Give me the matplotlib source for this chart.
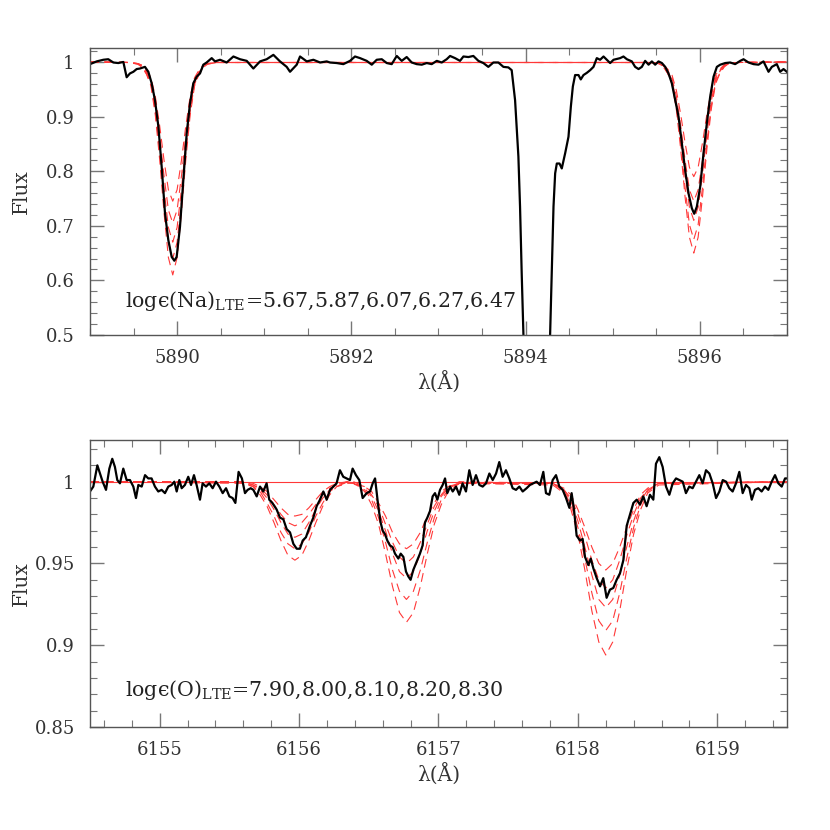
import matplotlib
matplotlib.use("Agg")
import matplotlib.pyplot as plt
from matplotlib.ticker import MultipleLocator, FuncFormatter
import numpy as np

plt.rcParams['font.family'] = ['DejaVu Serif']
plt.rcParams['mathtext.fontset'] = 'custom'
plt.rcParams['mathtext.rm'] = 'DejaVu Serif'

# observed spectrum, Na D region
na_obs_wave = [5889.000, 5889.077, 5889.153, 5889.210, 5889.268, 5889.325, 5889.383, 5889.421, 5889.459, 5889.498,
               5889.536, 5889.574, 5889.631, 5889.670, 5889.708, 5889.746, 5889.785, 5889.823, 5889.861, 5889.899,
               5889.938, 5889.968, 5889.995, 5890.033, 5890.072, 5890.110, 5890.148, 5890.186, 5890.225, 5890.263,
               5890.301, 5890.339, 5890.397, 5890.435, 5890.493, 5890.569, 5890.646, 5890.722, 5890.799, 5890.875,
               5890.952, 5891.028, 5891.105, 5891.181, 5891.258, 5891.296, 5891.373, 5891.411, 5891.488, 5891.564,
               5891.641, 5891.717, 5891.755, 5891.832, 5891.908, 5891.985, 5892.042, 5892.100, 5892.176, 5892.234,
               5892.291, 5892.349, 5892.406, 5892.463, 5892.521, 5892.578, 5892.635, 5892.693, 5892.750, 5892.808,
               5892.865, 5892.922, 5892.980, 5893.037, 5893.094, 5893.133, 5893.190, 5893.247, 5893.286, 5893.343,
               5893.400, 5893.458, 5893.515, 5893.572, 5893.630, 5893.687, 5893.745, 5893.802, 5893.840, 5893.879,
               5893.917, 5893.936, 5893.955, 5893.975, 5894.050, 5894.200, 5894.281, 5894.300, 5894.320, 5894.339,
               5894.358, 5894.389, 5894.415, 5894.454, 5894.492, 5894.519, 5894.542, 5894.568, 5894.607, 5894.633,
               5894.664, 5894.702, 5894.741, 5894.779, 5894.817, 5894.855, 5894.894, 5894.932, 5894.970, 5895.009,
               5895.085, 5895.123, 5895.162, 5895.219, 5895.257, 5895.296, 5895.334, 5895.372, 5895.411, 5895.449,
               5895.487, 5895.525, 5895.564, 5895.602, 5895.640, 5895.678, 5895.717, 5895.755, 5895.793, 5895.831,
               5895.870, 5895.908, 5895.935, 5895.965, 5896.004, 5896.042, 5896.080, 5896.119, 5896.157, 5896.195,
               5896.234, 5896.291, 5896.348, 5896.405, 5896.463, 5896.501, 5896.558, 5896.616, 5896.673, 5896.730,
               5896.788, 5896.826, 5896.883, 5896.921, 5896.960, 5896.998]
na_obs_flux = [0.996, 1.001, 1.004, 1.005, 0.999, 0.998, 1.000, 0.972, 0.979, 0.982,
               0.987, 0.988, 0.991, 0.982, 0.961, 0.930, 0.882, 0.808, 0.723, 0.674,
               0.643, 0.636, 0.643, 0.698, 0.784, 0.869, 0.924, 0.961, 0.973, 0.979,
               0.995, 0.999, 1.007, 1.001, 1.004, 0.999, 1.010, 1.005, 1.002, 0.988,
               1.001, 1.005, 1.013, 1.001, 0.991, 0.982, 0.995, 1.010, 1.001, 1.004,
               0.999, 1.001, 0.999, 0.998, 0.996, 1.002, 1.010, 1.007, 1.002, 0.995,
               1.004, 1.005, 0.998, 0.996, 1.011, 1.002, 1.009, 0.999, 0.996, 0.995,
               0.998, 0.996, 1.002, 0.999, 1.005, 1.011, 1.007, 1.002, 1.010, 1.009,
               1.011, 1.002, 0.998, 0.991, 0.999, 0.999, 0.991, 0.990, 0.985, 0.930,
               0.827, 0.735, 0.613, 0.500, 0.300, 0.300, 0.500, 0.613, 0.735, 0.796,
               0.814, 0.814, 0.805, 0.833, 0.863, 0.918, 0.955, 0.976, 0.976, 0.968,
               0.976, 0.980, 0.985, 0.991, 1.007, 1.004, 1.010, 1.004, 0.998, 1.004,
               1.007, 1.010, 1.005, 1.001, 0.991, 0.987, 0.991, 1.002, 0.995, 1.001,
               0.995, 1.001, 0.998, 0.991, 0.979, 0.961, 0.930, 0.900, 0.851, 0.802,
               0.759, 0.732, 0.722, 0.735, 0.772, 0.833, 0.888, 0.937, 0.973, 0.991,
               0.995, 0.998, 0.999, 0.996, 1.002, 1.005, 0.999, 0.996, 0.995, 1.001,
               0.982, 0.991, 0.996, 0.982, 0.987, 0.982]

# synthetic spectra, Na D2 / D1, five abundances
na_abund = [5.67, 5.87, 6.07, 6.27, 6.47]
na_centers = [5889.95, 5895.93]
na_offsets = [-0.5, -0.4, -0.35, -0.3, -0.25, -0.2, -0.15, -0.1, -0.05, 0.0,
              0.05, 0.1, 0.15, 0.2, 0.25, 0.3, 0.35, 0.4, 0.5]
na_d2_synth = [
    [0.999, 0.997, 0.994, 0.985, 0.971, 0.937, 0.883, 0.820, 0.766, 0.745, 0.766, 0.820, 0.883, 0.937, 0.971, 0.985, 0.994, 0.997, 0.999],
    [0.999, 0.997, 0.993, 0.982, 0.966, 0.927, 0.865, 0.791, 0.729, 0.705, 0.729, 0.791, 0.865, 0.927, 0.966, 0.982, 0.993, 0.997, 0.999],
    [0.999, 0.997, 0.992, 0.980, 0.962, 0.918, 0.849, 0.767, 0.697, 0.670, 0.697, 0.767, 0.849, 0.918, 0.962, 0.980, 0.992, 0.997, 0.999],
    [0.999, 0.996, 0.991, 0.978, 0.959, 0.910, 0.835, 0.745, 0.670, 0.640, 0.670, 0.745, 0.835, 0.910, 0.959, 0.978, 0.991, 0.996, 0.999],
    [0.999, 0.996, 0.990, 0.977, 0.956, 0.903, 0.821, 0.724, 0.642, 0.610, 0.642, 0.724, 0.821, 0.903, 0.956, 0.977, 0.990, 0.996, 0.999],
]
na_d1_synth = [
    [0.999, 0.998, 0.995, 0.987, 0.976, 0.948, 0.904, 0.852, 0.807, 0.790, 0.807, 0.852, 0.904, 0.948, 0.976, 0.987, 0.995, 0.998, 0.999],
    [0.999, 0.997, 0.994, 0.985, 0.971, 0.937, 0.883, 0.820, 0.766, 0.745, 0.766, 0.820, 0.883, 0.937, 0.971, 0.985, 0.994, 0.997, 0.999],
    [0.999, 0.997, 0.993, 0.983, 0.967, 0.928, 0.867, 0.795, 0.734, 0.710, 0.734, 0.795, 0.867, 0.928, 0.967, 0.983, 0.993, 0.997, 0.999],
    [0.999, 0.997, 0.992, 0.980, 0.963, 0.919, 0.851, 0.770, 0.702, 0.675, 0.702, 0.770, 0.851, 0.919, 0.963, 0.980, 0.992, 0.997, 0.999],
    [0.999, 0.997, 0.991, 0.979, 0.960, 0.913, 0.840, 0.753, 0.679, 0.650, 0.679, 0.753, 0.840, 0.913, 0.960, 0.979, 0.991, 0.997, 0.999],
]

# observed spectrum, O I 6156-6158 triplet
o_obs_wave = [6154.500, 6154.524, 6154.553, 6154.572, 6154.591, 6154.615, 6154.639, 6154.660, 6154.679, 6154.696,
              6154.715, 6154.739, 6154.763, 6154.787, 6154.811, 6154.830, 6154.847, 6154.871, 6154.895, 6154.918,
              6154.942, 6154.966, 6154.990, 6155.014, 6155.038, 6155.062, 6155.086, 6155.105, 6155.122, 6155.141,
              6155.158, 6155.181, 6155.205, 6155.225, 6155.246, 6155.265, 6155.289, 6155.308, 6155.332, 6155.356,
              6155.380, 6155.404, 6155.428, 6155.452, 6155.476, 6155.500, 6155.523, 6155.543, 6155.566, 6155.590,
              6155.612, 6155.631, 6155.653, 6155.672, 6155.696, 6155.720, 6155.743, 6155.767, 6155.786, 6155.808,
              6155.839, 6155.863, 6155.887, 6155.911, 6155.935, 6155.959, 6155.983, 6156.006, 6156.026, 6156.049,
              6156.078, 6156.102, 6156.126, 6156.150, 6156.174, 6156.198, 6156.222, 6156.246, 6156.269, 6156.293,
              6156.317, 6156.341, 6156.365, 6156.384, 6156.408, 6156.432, 6156.456, 6156.485, 6156.509, 6156.528,
              6156.545, 6156.568, 6156.585, 6156.600, 6156.616, 6156.633, 6156.652, 6156.671, 6156.688, 6156.712,
              6156.729, 6156.748, 6156.767, 6156.784, 6156.800, 6156.819, 6156.843, 6156.867, 6156.886, 6156.903,
              6156.920, 6156.939, 6156.958, 6156.975, 6156.992, 6157.011, 6157.030, 6157.047, 6157.063, 6157.083,
              6157.102, 6157.126, 6157.149, 6157.173, 6157.197, 6157.221, 6157.245, 6157.269, 6157.293, 6157.317,
              6157.341, 6157.365, 6157.389, 6157.413, 6157.436, 6157.460, 6157.484, 6157.508, 6157.532, 6157.556,
              6157.580, 6157.604, 6157.632, 6157.656, 6157.680, 6157.704, 6157.728, 6157.752, 6157.771, 6157.795,
              6157.819, 6157.843, 6157.867, 6157.891, 6157.915, 6157.939, 6157.955, 6157.972, 6157.991, 6158.015,
              6158.034, 6158.051, 6158.075, 6158.092, 6158.111, 6158.135, 6158.159, 6158.182, 6158.206, 6158.230,
              6158.254, 6158.278, 6158.302, 6158.326, 6158.350, 6158.374, 6158.398, 6158.422, 6158.445, 6158.469,
              6158.493, 6158.517, 6158.541, 6158.560, 6158.584, 6158.608, 6158.632, 6158.656, 6158.680, 6158.704,
              6158.728, 6158.752, 6158.775, 6158.799, 6158.823, 6158.847, 6158.871, 6158.895, 6158.919, 6158.943,
              6158.967, 6158.991, 6159.015, 6159.039, 6159.063, 6159.086, 6159.110, 6159.134, 6159.158, 6159.182,
              6159.206, 6159.230, 6159.247, 6159.270, 6159.294, 6159.318, 6159.342, 6159.366, 6159.390, 6159.414,
              6159.438, 6159.462, 6159.486, 6159.498]
o_obs_flux = [0.994, 0.997, 1.010, 1.005, 1.000, 0.995, 1.008, 1.014, 1.009, 1.001,
              0.999, 1.008, 1.001, 1.001, 0.997, 0.990, 0.998, 0.997, 1.004, 1.002,
              1.002, 0.997, 0.994, 0.995, 0.993, 0.997, 0.998, 1.000, 0.994, 1.001,
              0.996, 0.998, 1.003, 0.998, 1.004, 0.998, 0.989, 0.999, 0.997, 0.999,
              0.996, 1.000, 0.997, 0.993, 0.996, 0.991, 0.990, 0.987, 1.006, 1.002,
              0.993, 0.995, 0.996, 0.995, 0.991, 0.997, 0.994, 0.999, 0.989, 0.987,
              0.983, 0.978, 0.977, 0.971, 0.969, 0.962, 0.959, 0.959, 0.964, 0.966,
              0.973, 0.978, 0.985, 0.989, 0.994, 0.989, 0.995, 0.997, 0.999, 1.007,
              1.003, 1.002, 1.001, 1.008, 1.004, 1.001, 0.990, 0.993, 0.994, 0.999,
              1.002, 0.985, 0.975, 0.970, 0.968, 0.964, 0.961, 0.960, 0.956, 0.953,
              0.956, 0.954, 0.945, 0.942, 0.940, 0.946, 0.951, 0.956, 0.961, 0.975,
              0.978, 0.982, 0.991, 0.993, 0.989, 0.995, 0.998, 1.002, 0.993, 0.997,
              0.994, 0.997, 0.992, 0.999, 0.994, 1.007, 0.998, 1.004, 0.998, 0.997,
              0.999, 1.005, 1.001, 1.005, 1.012, 1.003, 1.007, 1.002, 0.996, 0.995,
              0.997, 0.994, 0.996, 0.998, 0.999, 1.000, 0.998, 1.006, 0.993, 0.992,
              1.001, 1.004, 0.997, 0.995, 0.990, 0.984, 0.993, 0.983, 0.967, 0.964,
              0.965, 0.954, 0.949, 0.953, 0.947, 0.941, 0.936, 0.941, 0.929, 0.934,
              0.935, 0.940, 0.944, 0.952, 0.973, 0.980, 0.987, 0.989, 0.986, 0.991,
              0.985, 0.992, 0.989, 1.011, 1.015, 1.009, 0.997, 0.992, 0.999, 1.002,
              1.001, 1.000, 0.993, 0.997, 0.996, 1.000, 1.004, 0.999, 1.007, 1.005,
              0.999, 0.990, 0.994, 1.001, 1.000, 0.996, 0.994, 0.999, 1.006, 0.993,
              0.998, 0.996, 0.989, 0.995, 0.996, 0.994, 0.997, 0.995, 1.000, 1.004,
              0.999, 0.997, 1.002, 1.002]

# synthetic spectra, O I lines, five abundances
o_abund = [7.90, 8.00, 8.10, 8.20, 8.30]
o_centers = [6155.97, 6156.77, 6158.20]
o_offsets = [-0.38, -0.3, -0.25, -0.2, -0.15, -0.1, -0.05, 0.0,
             0.05, 0.1, 0.15, 0.2, 0.25, 0.3, 0.38]
o_line1_synth = [
    [1.000, 0.999, 0.997, 0.994, 0.989, 0.984, 0.980, 0.979, 0.980, 0.984, 0.989, 0.994, 0.997, 0.999, 1.000],
    [1.000, 0.998, 0.996, 0.992, 0.986, 0.980, 0.975, 0.973, 0.975, 0.980, 0.986, 0.992, 0.996, 0.998, 1.000],
    [1.000, 0.998, 0.995, 0.990, 0.983, 0.975, 0.968, 0.966, 0.968, 0.975, 0.983, 0.990, 0.995, 0.998, 1.000],
    [1.000, 0.997, 0.994, 0.987, 0.979, 0.969, 0.962, 0.959, 0.962, 0.969, 0.979, 0.987, 0.994, 0.997, 1.000],
    [0.999, 0.997, 0.992, 0.985, 0.975, 0.964, 0.955, 0.952, 0.955, 0.964, 0.975, 0.985, 0.992, 0.997, 0.999],
]
o_line2_synth = [
    [1.000, 0.997, 0.994, 0.987, 0.979, 0.969, 0.962, 0.959, 0.962, 0.969, 0.979, 0.987, 0.994, 0.997, 1.000],
    [0.999, 0.997, 0.992, 0.985, 0.974, 0.963, 0.954, 0.950, 0.954, 0.963, 0.974, 0.985, 0.992, 0.997, 0.999],
    [0.999, 0.996, 0.991, 0.982, 0.970, 0.956, 0.945, 0.941, 0.945, 0.956, 0.970, 0.982, 0.991, 0.996, 0.999],
    [0.999, 0.995, 0.989, 0.978, 0.963, 0.946, 0.933, 0.928, 0.933, 0.946, 0.963, 0.978, 0.989, 0.995, 0.999],
    [0.999, 0.994, 0.986, 0.974, 0.956, 0.936, 0.920, 0.914, 0.920, 0.936, 0.956, 0.974, 0.986, 0.994, 0.999],
]
o_line3_synth = [
    [0.999, 0.996, 0.992, 0.983, 0.972, 0.960, 0.950, 0.946, 0.950, 0.960, 0.972, 0.983, 0.992, 0.996, 0.999],
    [0.999, 0.995, 0.990, 0.980, 0.967, 0.952, 0.940, 0.935, 0.940, 0.952, 0.967, 0.980, 0.990, 0.995, 0.999],
    [0.999, 0.995, 0.988, 0.976, 0.960, 0.943, 0.928, 0.923, 0.928, 0.943, 0.960, 0.976, 0.988, 0.995, 0.999],
    [0.999, 0.994, 0.986, 0.972, 0.953, 0.932, 0.915, 0.909, 0.915, 0.932, 0.953, 0.972, 0.986, 0.994, 0.999],
    [0.998, 0.993, 0.983, 0.968, 0.946, 0.921, 0.902, 0.894, 0.902, 0.921, 0.946, 0.968, 0.983, 0.993, 0.998],
]

RED = "#ff3838"
DASH = (0, (8, 5))


def synth_curve(x0, x1, centers, offsets, profiles):
    # continuum point at each end, line profiles in between
    wave = [x0]
    flux = [1.0]
    for c, prof in zip(centers, profiles):
        wave += [c + o for o in offsets]
        flux += list(prof)
    wave.append(x1)
    flux.append(1.0)
    return wave, flux


def style_axes(ax, xmaj, xmin, ymaj, ymin):
    ax.xaxis.set_major_locator(MultipleLocator(xmaj))
    ax.xaxis.set_minor_locator(MultipleLocator(xmin))
    ax.yaxis.set_major_locator(MultipleLocator(ymaj))
    ax.yaxis.set_minor_locator(MultipleLocator(ymin))
    ax.yaxis.set_major_formatter(FuncFormatter(lambda v, p: "%g" % round(v, 3)))
    ax.tick_params(which="both", direction="in", top=True, right=True, color="#777777")
    ax.tick_params(which="major", length=10, width=1.0)
    ax.tick_params(which="minor", length=5, width=0.8)
    ax.tick_params(axis="x", which="major", labelsize=13, pad=10, labelcolor="#333333")
    ax.tick_params(axis="y", which="major", labelsize=13, pad=11, labelcolor="#333333")
    for s in ax.spines.values():
        s.set_color("#555555")
        s.set_linewidth(1.0)
    ax.set_ylabel("Flux", fontsize=14.5, color="#333333")
    ax.set_xlabel("λ(Å)", fontsize=14.5, color="#333333")
    ax.yaxis.set_label_coords(-0.085, 0.5)
    ax.xaxis.set_label_coords(0.5, -0.125)


def main():
    fig = plt.figure(figsize=(8.3, 8.3), dpi=100)
    ax1 = fig.add_axes([0.1084, 0.5964, 0.8398, 0.3458])
    ax2 = fig.add_axes([0.1084, 0.1241, 0.8398, 0.3458])

    # Na D panel
    for i in range(len(na_abund)):
        w, f = synth_curve(5889.0, 5897.0, na_centers, na_offsets, [na_d2_synth[i], na_d1_synth[i]])
        ax1.plot(w, f, color=RED, lw=0.8, linestyle=DASH)
    ax1.plot(na_obs_wave, na_obs_flux, color="black", lw=1.6)
    ax1.set_xlim(5889, 5897)
    ax1.set_ylim(0.5, 1.0256)
    style_axes(ax1, 2, 0.5, 0.1, 0.02)
    ax1.text(5889.40, 0.5513, "logϵ(Na)$_{\\rm LTE}$=" + ",".join("%.2f" % a for a in na_abund),
             fontsize=14.8, va="baseline", ha="left", color="#222222")

    # O I panel
    ax2.axhline(1.0, color=RED, lw=0.8)
    for i in range(len(o_abund)):
        w, f = synth_curve(6154.5, 6159.5, o_centers, o_offsets,
                           [o_line1_synth[i], o_line2_synth[i], o_line3_synth[i]])
        ax2.plot(w, f, color=RED, lw=0.8, linestyle=DASH)
    ax2.plot(o_obs_wave, o_obs_flux, color="black", lw=1.6)
    ax2.set_xlim(6154.5, 6159.5)
    ax2.set_ylim(0.85, 1.0255)
    style_axes(ax2, 1, 0.2, 0.05, 0.01)
    ax2.text(6154.75, 0.8689, "logϵ(O)$_{\\rm LTE}$=" + ",".join("%.2f" % a for a in o_abund),
             fontsize=14.8, va="baseline", ha="left", color="#222222")

    fig.savefig("out.png", dpi=100)


if __name__ == "__main__":
    main()
